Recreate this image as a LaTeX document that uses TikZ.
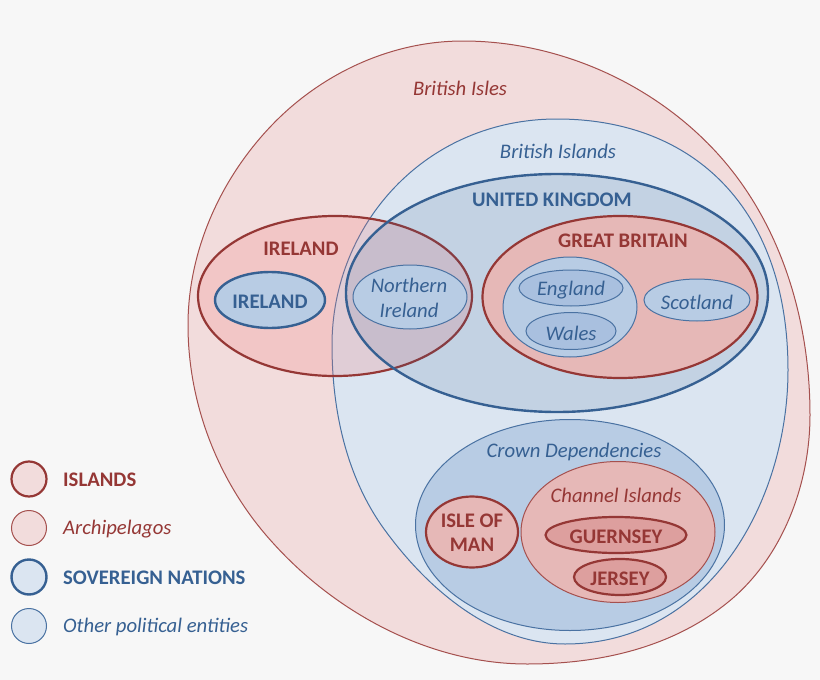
\documentclass[tikz,border=0pt]{standalone}
\usepackage{fontspec}
\setmainfont{Carlito}
\usetikzlibrary{shapes.geometric}
\definecolor{bgc}{HTML}{F7F7F7}
\definecolor{redd}{HTML}{953735}
\definecolor{redt}{HTML}{A5504E}
\definecolor{blued}{HTML}{366092}
\definecolor{bluet}{HTML}{4A72A2}
\definecolor{rlight}{HTML}{F2DCDC}
\definecolor{blight}{HTML}{DBE5F1}
\definecolor{rmid}{HTML}{E6B8B7}
\definecolor{bmid}{HTML}{B8CCE4}
\definecolor{rdeep}{HTML}{DD9F9E}
\definecolor{bdeep}{HTML}{A9C0DF}
\definecolor{rglass}{HTML}{F37878}
\definecolor{bglass}{HTML}{366092}
\tikzset{
  oval/.style={ellipse,inner sep=0pt,outer sep=0pt,align=center},
  rthick/.style={oval,draw=redd,line width=2.2pt},
  rthin/.style={oval,draw=redt,line width=1pt},
  bthick/.style={oval,draw=blued,line width=2.4pt},
  bthin/.style={oval,draw=bluet,line width=1pt},
  ov/.style n args={3}{minimum width=#1pt,minimum height=#2pt,fill=#3},
  rbold/.style={text=redd,font=\fontsize{20.7}{24.5}\selectfont\bfseries,align=center,inner sep=0pt},
  bbold/.style={text=blued,font=\fontsize{20.7}{24.5}\selectfont\bfseries,align=center,inner sep=0pt},
  rital/.style={text=redd,font=\fontsize{20.7}{25}\selectfont\itshape,align=center,inner sep=0pt},
  bital/.style={text=blued,font=\fontsize{20.7}{25}\selectfont\itshape,align=center,inner sep=0pt},
}
\begin{document}
\begin{tikzpicture}[x=1pt,y=-1pt]
\useasboundingbox[fill=bgc] (0,0) rectangle (820,680);
% British Isles
\draw[fill=rlight,draw=redt,line width=1pt] (463,41)
  .. controls (558,41) and (653,83) .. (717,153)
  .. controls (781,223) and (810,320) .. (810,415)
  .. controls (810,485) and (782,559) .. (727,603)
  .. controls (671,648) and (599,664) .. (527,664)
  .. controls (431,664) and (337,614) .. (273,543)
  .. controls (219,484) and (188,405) .. (188,325)
  .. controls (188,247) and (224,171) .. (280,117)
  .. controls (329,70) and (395,41) .. cycle;
% British Islands
\draw[fill=blight,draw=bluet,line width=1pt] (557,119)
  .. controls (695,119) and (788,210) .. (788,370)
  .. controls (788,500) and (710,644) .. (565,644)
  .. controls (493,644) and (430,591) .. (387,533)
  .. controls (347,480) and (332,412) .. (332,345)
  .. controls (332,225) and (425,119) .. cycle;
% Ireland (island)
\node[rthick,minimum width=274pt,minimum height=160pt,fill=rglass,fill opacity=.22] (irelandisl) at (335,296) {};
% UK
\node[bthick,minimum width=422pt,minimum height=238pt,fill=bglass,fill opacity=.14] (uk) at (557,293) {};
\node[rthick,ov={275}{162}{rmid}] (gb) at (620,297) {};
\node[bthick,ov={110}{56}{bmid}] (irelandnat) at (270,300) {};
\node[bthin,ov={114}{64}{bmid}] (ni) at (410,297) {};
\node[bthin,ov={134}{100}{bmid}] (ew) at (570,307) {};
\node[bthin,ov={104}{36}{bdeep}] (england) at (571,288) {};
\node[bthin,ov={90}{37}{bdeep}] (wales) at (571,331) {};
\node[bthin,ov={106}{42}{bmid}] (scotland) at (697,300) {};
% Crown Dependencies
\node[bthin,ov={309}{211}{bmid}] (crown) at (570,525) {};
\node[rthin,ov={194}{141}{rmid}] (channel) at (618,532) {};
\node[rthick,ov={92}{71}{rmid}] (man) at (472,532) {};
\node[rthick,ov={141}{36}{rdeep}] (guernsey) at (616,535) {};
\node[rthick,ov={92}{36}{rdeep}] (jersey) at (620,577) {};
% Texts
\node[rital] (t1) at (460,88) {British Isles};
\node[bital] (t2) at (558,151) {British Islands};
\node[bbold] (t3) at (552,200) {UNITED KINGDOM};
\node[rbold] (t4) at (301,249) {IRELAND};
\node[bbold] (t5) at (270,302) {IRELAND};
\node[bital] (t6) at (409,298) {Northern\\Ireland};
\node[rbold] (t7) at (623,241) {GREAT BRITAIN};
\node[bital] (t8) at (571,290) {England};
\node[bital] (t9) at (571,333) {Wales};
\node[bital] (t10) at (697,302) {Scotland};
\node[bital] (t11) at (574,452) {Crown Dependencies};
\node[rital] (t12) at (616,495) {Channel Islands};
\node[rbold] (t13) at (472,532.5) {ISLE OF\\MAN};
\node[rbold] (t14) at (616,537) {GUERNSEY};
\node[rbold] (t15) at (620,579) {JERSEY};
% Legend
\node[rthick,circle,minimum size=35pt,fill=rlight] (l1) at (29,479) {};
\node[rthin,circle,minimum size=35pt,fill=rlight] (l2) at (29,528) {};
\node[bthick,circle,minimum size=35pt,fill=blight] (l3) at (29,577) {};
\node[bthin,circle,minimum size=35pt,fill=blight] (l4) at (29,626) {};
\node[rbold,anchor=west] (lt1) at (63,480) {ISLANDS};
\node[rital,anchor=west] (lt2) at (63,529) {Archipelagos};
\node[bbold,anchor=west] (lt3) at (63,578) {SOVEREIGN NATIONS};
\node[bital,anchor=west] (lt4) at (63,627) {Other political entities};
\end{tikzpicture}
\end{document}
